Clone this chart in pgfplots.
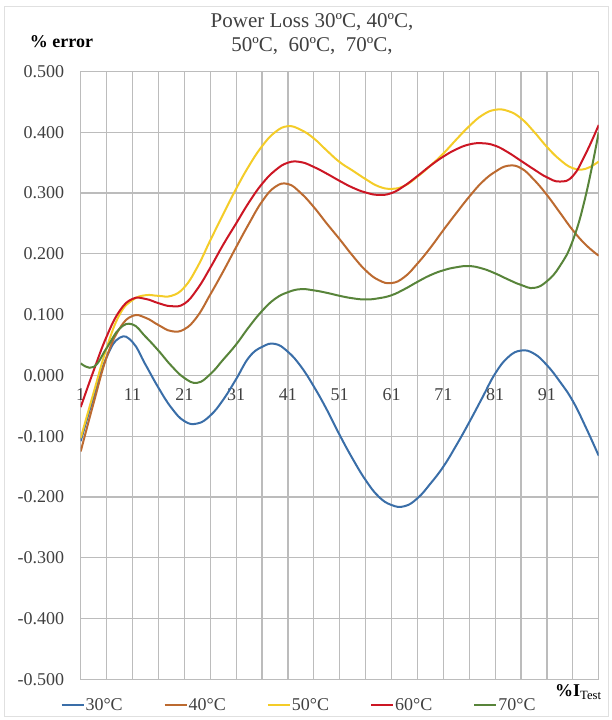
\documentclass[border=0pt]{standalone}
\usepackage{fontspec}
\setmainfont{Liberation Serif}
\usepackage{pgfplots}
\pgfplotsset{compat=1.18}
\definecolor{c30}{RGB}{58,110,168}
\definecolor{c40}{RGB}{188,106,48}
\definecolor{c50}{RGB}{244,204,40}
\definecolor{c60}{RGB}{204,22,36}
\definecolor{c70}{RGB}{88,132,58}
\definecolor{gridc}{RGB}{188,188,188}
\begin{document}
\begin{tikzpicture}
\begin{axis}[
 name=ax, at={(0,0)}, anchor=south west,
 scale only axis, width=518pt, height=608pt,
 xmin=1, xmax=101, ymin=-0.5, ymax=0.5,
 xtick={1,6,...,101},
 xticklabels={1,,11,,21,,31,,41,,51,,61,,71,,81,,91,,},
 ytick={-0.5,-0.4,-0.3,-0.2,-0.1,0,0.1,0.2,0.3,0.4,0.5},
 grid=major,
 major grid style={gridc, line width=1.2pt},
 axis line style={gridc, line width=1.2pt},
 major tick length=0pt,
 tick style={draw=none},
 /pgf/number format/assume math mode=true,
 yticklabel style={/pgf/number format/.cd, fixed, fixed zerofill, precision=3, /tikz/.cd,
   font=\fontsize{18}{20}\selectfont, xshift=-13pt, text=black!75},
 xticklabel style={font=\fontsize{18}{20}\selectfont, anchor=center, yshift=284.5pt, text=black!75},
 legend columns=5,
 legend style={at={(axis description cs:0.4205,-0.042)}, anchor=center, draw=none, fill=none,
   font=\fontsize{18}{20}\selectfont, text=black!75,
   /tikz/every even column/.append style={column sep=40pt},
   nodes={inner sep=1pt}},
 legend image code/.code={\draw[#1] (0pt,0pt) -- (22pt,0pt);},
 every axis plot/.append style={line width=2pt, smooth, tension=0.75, no markers},
]
\addplot[c30] coordinates {
(1,-0.108) (3.5,-0.035) (6,0.03) (8.5,0.062) (11,0.055) (13.5,0.018) (16,-0.02) (18.5,-0.053)
(21,-0.075) (23.5,-0.079) (26,-0.066) (28.5,-0.04) (31,-0.006) (33.5,0.03) (36,0.047) (38.5,0.052)
(41,0.039) (43.5,0.015) (46,-0.018) (48.5,-0.056) (51,-0.098) (53.5,-0.137) (56,-0.172) (58.5,-0.199)
(61,-0.213) (63.5,-0.215) (66,-0.202) (68.5,-0.178) (71,-0.15) (73.5,-0.115) (76,-0.077) (78.5,-0.037)
(81,0.003) (83.5,0.03) (86,0.041) (88.5,0.036) (91,0.017) (93.5,-0.01) (96,-0.042) (98.5,-0.085) (101,-0.132)};
\addlegendentry{30°C}
\addplot[c40] coordinates {
(1,-0.125) (3.5,-0.045) (6,0.03) (8.5,0.077) (11,0.098) (13.5,0.095) (16,0.083) (18.5,0.073)
(21,0.076) (23.5,0.097) (26,0.133) (28.5,0.171) (31,0.211) (33.5,0.25) (36,0.286) (38.5,0.31)
(41,0.315) (43.5,0.3) (46,0.277) (48.5,0.25) (51,0.224) (53.5,0.197) (56,0.173) (58.5,0.157)
(61,0.152) (63.5,0.162) (66,0.184) (68.5,0.21) (71,0.239) (73.5,0.267) (76,0.294) (78.5,0.318)
(81,0.335) (83.5,0.345) (86,0.341) (88.5,0.322) (91,0.297) (93.5,0.268) (96,0.239) (98.5,0.215) (101,0.197)};
\addlegendentry{40°C}
\addplot[c50] coordinates {
(1,-0.103) (3.5,-0.028) (6,0.045) (8.5,0.1) (11,0.124) (13.5,0.132) (16,0.131) (18.5,0.131)
(21,0.145) (23.5,0.178) (26,0.222) (28.5,0.265) (31,0.307) (33.5,0.345) (36,0.377) (38.5,0.4)
(41,0.41) (43.5,0.404) (46,0.39) (48.5,0.37) (51,0.351) (53.5,0.337) (56,0.323) (58.5,0.311)
(61,0.307) (63.5,0.312) (66,0.327) (68.5,0.345) (71,0.365) (73.5,0.388) (76,0.41) (78.5,0.428)
(81,0.437) (83.5,0.435) (86,0.423) (88.5,0.401) (91,0.376) (93.5,0.355) (96,0.341) (98.5,0.34) (101,0.352)};
\addlegendentry{50°C}
\addplot[c60] coordinates {
(1,-0.052) (3.5,0.008) (6,0.064) (8.5,0.106) (11,0.126) (13.5,0.126) (16,0.119) (18.5,0.114)
(21,0.118) (23.5,0.142) (26,0.177) (28.5,0.215) (31,0.25) (33.5,0.285) (36,0.315) (38.5,0.337)
(41,0.35) (43.5,0.351) (46,0.343) (48.5,0.332) (51,0.32) (53.5,0.309) (56,0.301) (58.5,0.297)
(61,0.3) (63.5,0.312) (66,0.328) (68.5,0.345) (71,0.36) (73.5,0.372) (76,0.38) (78.5,0.382)
(81,0.378) (83.5,0.367) (86,0.353) (88.5,0.339) (91,0.326) (93.5,0.319) (96,0.328) (98.5,0.365) (101,0.412)};
\addlegendentry{60°C}
\addplot[c70] coordinates {
(1,0.02) (3.5,0.014) (6,0.045) (8.5,0.077) (11,0.084) (13.5,0.064) (16,0.041) (18.5,0.016)
(21,-0.004) (23.5,-0.012) (26,0.002) (28.5,0.026) (31,0.051) (33.5,0.08) (36,0.106) (38.5,0.126)
(41,0.137) (43.5,0.142) (46,0.14) (48.5,0.136) (51,0.131) (53.5,0.127) (56,0.125) (58.5,0.127)
(61,0.132) (63.5,0.142) (66,0.154) (68.5,0.165) (71,0.173) (73.5,0.178) (76,0.18) (78.5,0.176)
(81,0.168) (83.5,0.158) (86,0.149) (88.5,0.144) (91,0.155) (93.5,0.18) (96,0.222) (98.5,0.296) (101,0.4)};
\addlegendentry{70°C}
\end{axis}
\node[font=\fontsize{21}{24}\selectfont, align=center, text=black!75] at ([shift={(231.3pt,645.5pt)}]ax.south west) {Power Loss 30ºC, 40ºC,\\50ºC,\ \ 60ºC,\ \ 70ºC,};
\node[font=\bfseries\fontsize{18}{20}\selectfont] at ([shift={(-19.2pt,637.5pt)}]ax.south west) {\% error};
\node[anchor=west, font=\fontsize{18}{20}\selectfont, inner sep=0pt] at ([shift={(474.3pt,-12.5pt)}]ax.south west) {\textbf{\%I}\textsubscript{Test}};
\draw[black!12, line width=1pt] ([shift={(-75.7pt,-36.5pt)}]ax.south west) rectangle ([shift={(527.3pt,672.5pt)}]ax.south west);
\path[use as bounding box] ([shift={(-80.7pt,-40.5pt)}]ax.south west) rectangle ([shift={(530.3pt,679.5pt)}]ax.south west);
\end{tikzpicture}
\end{document}
